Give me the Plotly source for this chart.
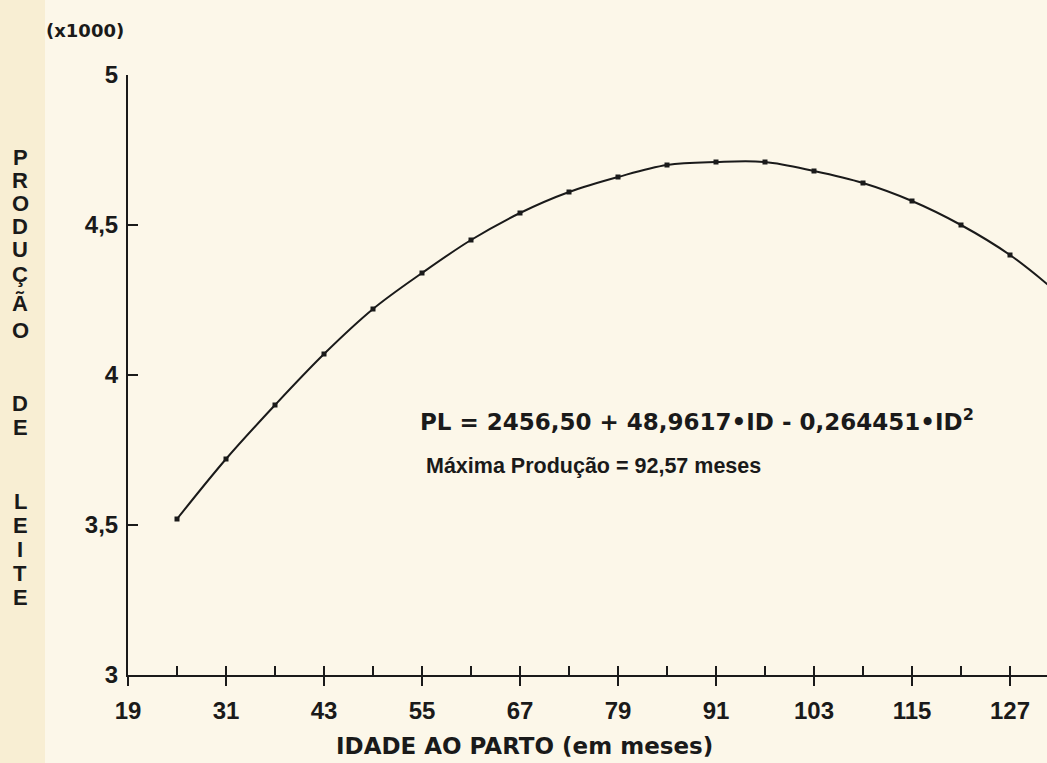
import plotly.graph_objects as go

# Data (x1000 litres)
idade = [25, 31, 37, 43, 49, 55, 61, 67, 73, 79, 85, 91, 97, 103, 109, 115, 121, 127]
producao = [3.52, 3.72, 3.90, 4.07, 4.22, 4.34, 4.45, 4.54, 4.61, 4.66, 4.70, 4.71,
            4.71, 4.68, 4.64, 4.58, 4.50, 4.40]
curva_x = idade + [133]
curva_y = producao + [4.27]

x_major = [19, 31, 43, 55, 67, 79, 91, 103, 115, 127]
x_minor = [19, 25, 31, 37, 43, 49, 55, 61, 67, 73, 79, 85, 91, 97, 103, 109, 115, 121, 127]
y_ticks = [3, 3.5, 4, 4.5, 5]
y_labels = ["3", "3,5", "4", "4,5", "5"]

FONT = "Liberation Sans"
FONT2 = "DejaVu Sans"
INK = "#1a1a1a"
W, H = 1047, 763
L, R, T, B = 128, 0, 75, 88
PW, PH = W - L - R, H - T - B

def px(xp):
    return (xp - L) / PW

def py(yp):
    return (H - B - yp) / PH

fig = go.Figure()
fig.add_trace(go.Scatter(x=curva_x, y=curva_y, mode="lines",
                         line=dict(color=INK, width=2, shape="spline", smoothing=1.0),
                         hoverinfo="skip", showlegend=False))
fig.add_trace(go.Scatter(x=idade, y=producao, mode="markers",
                         marker=dict(symbol="square", size=5, color=INK),
                         showlegend=False))
# helper trace for the axis that carries the inside ticks
fig.add_trace(go.Scatter(x=[19], y=[3], xaxis="x2", mode="markers",
                         marker=dict(opacity=0, size=1), showlegend=False, hoverinfo="skip"))

xr = [19, 19 + PW / ((1010 - 128) / 108)]

fig.update_layout(
    width=W, height=H,
    margin=dict(l=L, r=R, t=T, b=B),
    paper_bgcolor="#fcf7e9", plot_bgcolor="#fcf7e9",
    xaxis=dict(range=xr, tickvals=x_major, ticks="outside", ticklen=9, tickwidth=2,
               tickcolor=INK, showline=True, linewidth=2, linecolor=INK,
               showgrid=False, zeroline=False, ticklabelstandoff=4,
               tickfont=dict(family=FONT, size=24, color=INK, weight="bold")),
    xaxis2=dict(range=xr, overlaying="x", anchor="y", tickvals=x_minor, ticks="inside",
                ticklen=9, tickwidth=2, tickcolor=INK, showticklabels=False,
                showgrid=False, zeroline=False, showline=False),
    yaxis=dict(range=[3, 5], tickvals=y_ticks, ticktext=y_labels, ticks="inside",
               ticklen=10, tickwidth=2, tickcolor=INK, showline=True, linewidth=2,
               linecolor=INK, showgrid=False, zeroline=False, ticklabelstandoff=3,
               tickfont=dict(family=FONT, size=24, color=INK, weight="bold")),
)

# left yellowish strip
fig.add_shape(type="rect", xref="paper", yref="paper", x0=px(0), x1=px(45), y0=py(H), y1=py(0),
              fillcolor="#f8eed3", line=dict(width=0), layer="below")

ann = []
def add_text(text, x, y, size, xanchor="center", family=FONT):
    ann.append(dict(text=text, xref="paper", yref="paper", x=x, y=y, xanchor=xanchor,
                    yanchor="middle", showarrow=False,
                    font=dict(family=family, size=size, color=INK, weight="bold")))

add_text("(x1000)", px(85), py(30), 18, family=FONT2)
add_text("IDADE AO PARTO (em meses)", px(524), py(746), 23, family=FONT2)
add_text("PL = 2456,50 + 48,9617•ID - 0,264451•ID<sup>2</sup>", px(418), py(420), 23,
         "left", family=FONT2)
add_text("Máxima Produção = 92,57 meses", px(424), py(466), 21.5, "left")

letters = [("P", 157), ("R", 180), ("O", 203), ("D", 226), ("U", 249), ("Ç", 274),
           ("Ã", 303), ("O", 330), ("D", 403), ("E", 427),
           ("L", 501), ("E", 525), ("I", 549), ("T", 573), ("E", 597)]
for ch, yp in letters:
    add_text(ch, px(20), py(yp), 22)

fig.update_layout(annotations=ann)
fig.write_html("out.html", config={"displayModeBar": False},
               post_script="document.body.style.margin='0px';document.body.style.overflow='hidden';")
